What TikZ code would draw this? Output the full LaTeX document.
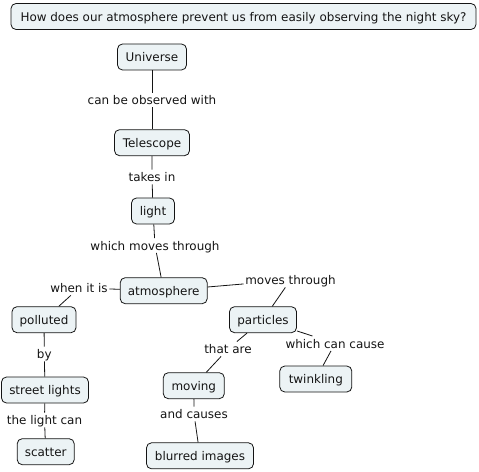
\documentclass[tikz,border=0pt]{standalone}
\usepackage{fontspec}
\setmainfont{DejaVu Sans}
\definecolor{cfill}{RGB}{236,243,245}
\definecolor{ink}{RGB}{20,20,20}
\begin{document}
\begin{tikzpicture}[x=1bp,y=-1bp,
  every node/.style={font=\fontsize{12}{14}\selectfont, text=ink},
  concept/.style={draw=ink, fill=cfill, rounded corners=5bp, line width=0.8bp,
    minimum height=26bp, inner xsep=2bp, inner ysep=2bp, text height=11bp, text depth=1.2bp},
  linklabel/.style={inner sep=1.5bp, text height=10.5bp, text depth=1bp},
  conn/.style={draw=ink, line width=0.8bp}]
\useasboundingbox (0,0) rectangle (479,472);
% concepts
\node[concept, minimum width=465bp] (q) at (243.5,16.5) {How does our atmosphere prevent us from easily observing the night sky?};
\node[concept, minimum width=69bp] (uni) at (152,57) {Universe};
\node[concept, minimum width=75bp] (tel) at (152,142.7) {Telescope};
\node[concept, minimum width=43bp] (light) at (153,211) {light};
\node[concept, minimum width=87bp] (atm) at (163.7,290.7) {atmosphere};
\node[concept, minimum width=64bp] (pol) at (44,319.7) {polluted};
\node[concept, minimum width=87bp] (street) at (45,390) {street lights};
\node[concept, minimum width=57bp] (scat) at (45.7,451.7) {scatter};
\node[concept, minimum width=67bp] (part) at (263,319.7) {particles};
\node[concept, minimum width=61bp] (mov) at (193.8,385.7) {moving};
\node[concept, minimum width=72bp] (twink) at (315.8,379) {twinkling};
\node[concept, minimum width=107bp] (blur) at (200,455.8) {blurred images};
% link labels
\node[linklabel] (l1) at (152,100) {can be observed with};
\node[linklabel] (l2) at (152,177) {takes in};
\node[linklabel] (l3) at (155,245.5) {which moves through};
\node[linklabel] (l4) at (79,288) {when it is};
\node[linklabel] (l5) at (290.5,280) {moves through};
\node[linklabel] (l6) at (44.3,354) {by};
\node[linklabel] (l7) at (44.5,420) {the light can};
\node[linklabel] (l8) at (228,349) {that are};
\node[linklabel] (l9) at (335,343.5) {which can cause};
\node[linklabel] (l10) at (194,414) {and causes};
% connectors
\draw[conn] (uni) -- (l1) -- (tel);
\draw[conn] (tel) -- (l2) -- (light);
\draw[conn] (light) -- (l3) -- (atm);
\draw[conn] (atm) -- (l4) -- (pol);
\draw[conn] (atm) -- (l5) -- (part);
\draw[conn] (pol) -- (l6) -- (street);
\draw[conn] (street) -- (l7) -- (scat);
\draw[conn] (part) -- (l8) -- (mov);
\draw[conn] (part) -- (l9) -- (twink);
\draw[conn] (mov) -- (l10) -- (blur);
\end{tikzpicture}
\end{document}
